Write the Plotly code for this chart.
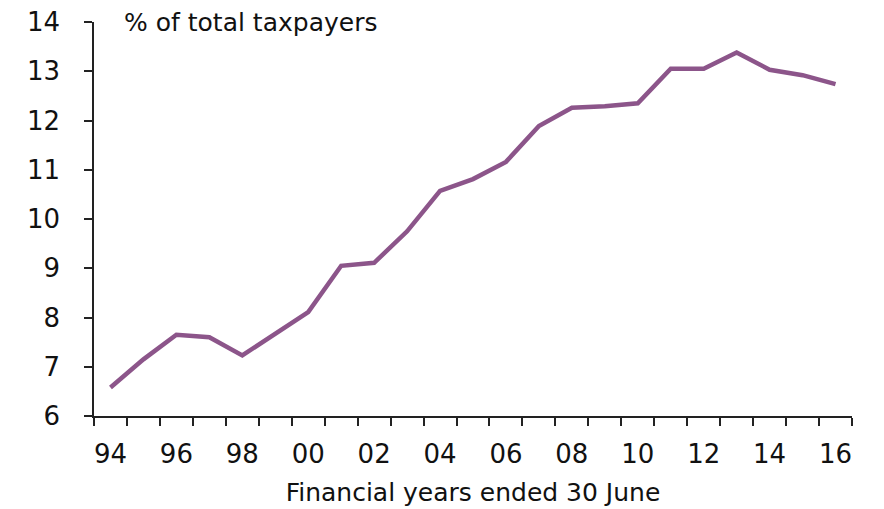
import plotly.graph_objects as go

years = ["94", "95", "96", "97", "98", "99", "00", "01", "02", "03", "04", "05",
         "06", "07", "08", "09", "10", "11", "12", "13", "14", "15", "16"]
share_pct = [6.58, 7.15, 7.65, 7.60, 7.23, 7.66, 8.11, 9.05, 9.11, 9.75, 10.57, 10.81,
             11.16, 11.89, 12.26, 12.29, 12.35, 13.05, 13.05, 13.38, 13.03, 12.92, 12.74]
y_ticks = [6, 7, 8, 9, 10, 11, 12, 13, 14]
x_label_every = 2

FONT = "DejaVu Sans"
LINE_COLOR = "#8C558A"

idx = list(range(len(years)))

fig = go.Figure()
fig.add_trace(go.Scatter(
    x=idx, y=share_pct, mode="lines",
    line=dict(color=LINE_COLOR, width=4.5),
    hoverinfo="skip", showlegend=False,
))

fig.update_layout(
    width=876, height=501,
    margin=dict(l=86, r=32, t=14, b=93),
    paper_bgcolor="white", plot_bgcolor="white",
    font=dict(family=FONT, size=25, color="#111111"),
    xaxis=dict(
        range=[-0.5, len(years) - 0.5],
        automargin=False,
        tickmode="array",
        tickvals=idx[::x_label_every],
        ticktext=years[::x_label_every],
        ticks="outside", ticklen=0,
        ticklabelstandoff=14,
        minor=dict(ticks="outside", tick0=-0.5, dtick=1, ticklen=8, tickwidth=1.5, tickcolor="#222222"),
        showline=True, linecolor="#222222", linewidth=1.5,
        showgrid=False, zeroline=False,
        tickfont=dict(size=26),
        title=dict(text="Financial years ended 30 June", font=dict(size=25), standoff=16),
    ),
    yaxis=dict(
        range=[6, 14],
        automargin=False,
        tickmode="array",
        tickvals=y_ticks,
        ticks="outside", ticklen=8, tickwidth=1.5, tickcolor="#222222",
        ticklabelstandoff=19,
        ticklabeloverflow="allow",
        showline=True, linecolor="#222222", linewidth=1.5,
        showgrid=False, zeroline=False,
        tickfont=dict(size=26),
    ),
    annotations=[dict(
        text="% of total taxpayers", xref="paper", yref="paper",
        x=0.037, y=1.0, xanchor="left", yanchor="middle",
        showarrow=False, font=dict(size=25),
    )],
)

fig.write_html("out.html")
